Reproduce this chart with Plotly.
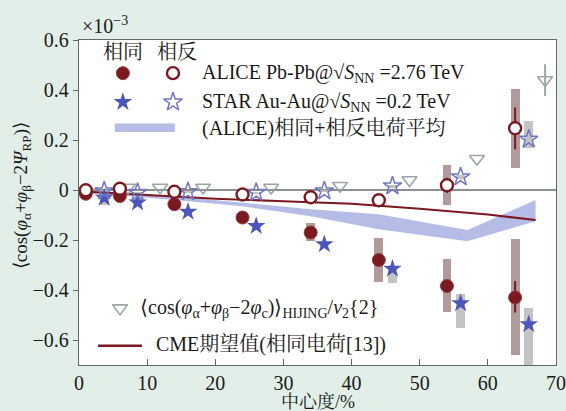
import plotly.graph_objects as go

# ---------------- data (units of 1e-3) ----------------
alice_x = [1, 6, 14, 24, 34, 44, 54, 64]
alice_same = [-0.015, -0.024, -0.057, -0.110, -0.170, -0.280, -0.384, -0.430]
alice_same_stat_p = [0.005, 0.005, 0.005, 0.006, 0.008, 0.012, 0.02, 0.066]
alice_same_stat_m = [0.005, 0.005, 0.005, 0.006, 0.008, 0.012, 0.02, 0.060]
alice_same_sys_lo = [-0.020, -0.030, -0.065, -0.125, -0.204, -0.368, -0.488, -0.660]
alice_same_sys_hi = [-0.010, -0.018, -0.050, -0.095, -0.131, -0.190, -0.276, -0.195]

alice_opp = [-0.001, 0.005, -0.007, -0.018, -0.029, -0.041, 0.019, 0.247]
alice_opp_stat_p = [0.004, 0.004, 0.004, 0.005, 0.006, 0.008, 0.03, 0.083]
alice_opp_stat_m = [0.004, 0.004, 0.004, 0.005, 0.006, 0.008, 0.03, 0.084]
alice_opp_sys_lo = [-0.006, 0.000, -0.013, -0.030, -0.052, -0.066, -0.061, 0.087]
alice_opp_sys_hi = [0.004, 0.010, -0.001, -0.006, -0.006, -0.016, 0.099, 0.405]

star_x = [3.7, 8.6, 16, 26, 36, 46, 56, 66]
star_same = [-0.031, -0.050, -0.087, -0.144, -0.217, -0.315, -0.453, -0.537]
star_same_sys_lo = [-0.060, -0.058, -0.095, -0.152, -0.225, -0.370, -0.550, -0.760]
star_same_sys_hi = [-0.015, -0.042, -0.079, -0.136, -0.209, -0.304, -0.417, -0.470]
star_opp = [-0.004, -0.010, -0.007, -0.010, -0.004, 0.016, 0.052, 0.203]
star_opp_sys_lo = [-0.008, -0.014, -0.011, -0.014, -0.008, 0.010, 0.044, 0.170]
star_opp_sys_hi = [0.000, -0.006, -0.003, -0.006, 0.000, 0.022, 0.060, 0.276]

hijing_x = [7.2, 11.9, 18.2, 28.2, 38.3, 48.5, 58.4, 68.4]
hijing_y = [0.010, 0.010, 0.010, 0.010, 0.017, 0.040, 0.125, 0.440]
hijing_err_p = [0, 0, 0, 0, 0, 0, 0, 0.063]
hijing_err_m = [0, 0, 0, 0, 0, 0, 0, 0.064]

band_x = [0, 6, 14, 24, 34, 44, 57, 67]
band_hi = [-0.003, -0.010, -0.025, -0.050, -0.077, -0.097, -0.160, -0.040]
band_lo = [-0.012, -0.022, -0.040, -0.065, -0.105, -0.157, -0.205, -0.125]

cme_x = [0, 10, 20, 30, 40, 50, 60, 67]
cme_y = [-0.005, -0.020, -0.035, -0.045, -0.055, -0.075, -0.098, -0.120]

x_ticks = [0, 10, 20, 30, 40, 50, 60, 70]
y_ticks = [-0.6, -0.4, -0.2, 0, 0.2, 0.4, 0.6]
y_ticktext = ["\u22120.6", "\u22120.4", "\u22120.2", "0", "0.2", "0.4", "0.6"]

# ---------------- style ----------------
RED = "#7a1a20"
BLUE = "#4b56b8"
BLUE_L = "#6f76c4"
BAND = "#b5bce6"
TRI = "#9aa6a6"
BOX_A = "rgba(150,120,120,0.75)"
BOX_S = "rgba(185,185,185,0.85)"
FONT = "Liberation Serif, 'Noto Serif CJK SC', 'Noto Sans CJK SC', serif"

fig = go.Figure()

def sys_bars(x, lo, hi, color, width=1.3):
    fig.add_trace(go.Bar(x=x, base=lo, y=[h - l for h, l in zip(hi, lo)],
                         width=width, marker=dict(color=color, line=dict(width=0)),
                         showlegend=False, hoverinfo="skip"))

sys_bars(alice_x, alice_same_sys_lo, alice_same_sys_hi, BOX_A)
sys_bars(alice_x, alice_opp_sys_lo, alice_opp_sys_hi, BOX_A)
sys_bars(star_x, star_same_sys_lo, star_same_sys_hi, BOX_S)
sys_bars(star_x, star_opp_sys_lo, star_opp_sys_hi, BOX_S)

# band
fig.add_trace(go.Scatter(x=band_x, y=band_lo, mode="lines", line=dict(width=0, color=BAND),
                         showlegend=False, hoverinfo="skip"))
fig.add_trace(go.Scatter(x=band_x, y=band_hi, mode="lines", line=dict(width=0, color=BAND),
                         fill="tonexty", fillcolor=BAND, showlegend=False, hoverinfo="skip"))

# CME line
fig.add_trace(go.Scatter(x=cme_x, y=cme_y, mode="lines", line=dict(color=RED, width=2.2),
                         showlegend=False))

# HIJING
fig.add_trace(go.Scatter(x=hijing_x, y=hijing_y, mode="markers",
                         marker=dict(symbol="triangle-down-open", size=13, color=TRI,
                                     line=dict(width=1.6, color=TRI)),
                         error_y=dict(type="data", array=hijing_err_p, arrayminus=hijing_err_m,
                                      color=TRI, thickness=2, width=0),
                         showlegend=False))

# STAR
fig.add_trace(go.Scatter(x=star_x, y=star_same, mode="markers",
                         marker=dict(symbol="star", size=14, color=BLUE, line=dict(width=0)),
                         showlegend=False))
fig.add_trace(go.Scatter(x=star_x, y=star_opp, mode="markers",
                         marker=dict(symbol="star-open", size=14, color=BLUE_L,
                                     line=dict(width=1.5, color=BLUE_L)),
                         showlegend=False))

# ALICE
fig.add_trace(go.Scatter(x=alice_x, y=alice_same, mode="markers",
                         marker=dict(symbol="circle", size=13, color=RED,
                                     line=dict(width=1, color="#9a3a3e")),
                         error_y=dict(type="data", array=alice_same_stat_p,
                                      arrayminus=alice_same_stat_m, color=RED, thickness=2, width=0),
                         showlegend=False))
fig.add_trace(go.Scatter(x=alice_x, y=alice_opp, mode="markers",
                         marker=dict(symbol="circle", size=12, color="white",
                                     line=dict(width=2.4, color=RED)),
                         error_y=dict(type="data", array=alice_opp_stat_p,
                                      arrayminus=alice_opp_stat_m, color=RED, thickness=2, width=0),
                         showlegend=False))

# ---------------- legend glyphs (overlay axes in [0,1]) ----------------
def glyph(x, y, marker, mode="markers", line=None):
    kw = dict(x=x, y=y, mode=mode, xaxis="x2", yaxis="y2", showlegend=False, hoverinfo="skip")
    if marker is not None:
        kw["marker"] = marker
    if line is not None:
        kw["line"] = line
    fig.add_trace(go.Scatter(**kw))

glyph([0.092], [0.898], dict(symbol="circle", size=13, color=RED, line=dict(width=1, color="#9a3a3e")))
glyph([0.197], [0.898], dict(symbol="circle", size=12, color="white", line=dict(width=2.4, color=RED)))
glyph([0.092], [0.809], dict(symbol="star", size=14, color=BLUE, line=dict(width=0)))
glyph([0.197], [0.809], dict(symbol="star-open", size=14, color=BLUE_L, line=dict(width=1.5, color=BLUE_L)))
glyph([0.086], [0.175], dict(symbol="triangle-down-open", size=13, color=TRI, line=dict(width=1.6, color=TRI)))
glyph([0.040, 0.132], [0.059, 0.059], None, mode="lines", line=dict(color=RED, width=2.5))

fig.add_shape(type="rect", xref="paper", yref="paper", x0=0.075, x1=0.201, y0=0.717, y1=0.743,
              fillcolor=BAND, line=dict(width=0))

def txt(x, y, s, anchor="left", size=20):
    fig.add_annotation(x=x, y=y, xref="paper", yref="paper", text=s, showarrow=False,
                       xanchor=anchor, yanchor="middle", font=dict(family=FONT, size=size, color="#1a1a1a"))

txt(0.092, 0.962, "相同", "center")
txt(0.205, 0.962, "相反", "center")
txt(0.254, 0.898, "ALICE Pb-Pb@√<i>S</i><sub>NN</sub> =2.76 TeV")
txt(0.254, 0.809, "STAR Au-Au@√<i>S</i><sub>NN</sub> =0.2 TeV")
txt(0.254, 0.729, "(ALICE)相同+相反电荷平均")
txt(0.124, 0.175, "⟨cos(<i>φ</i><sub>α</sub>+<i>φ</i><sub>β</sub>−2<i>φ</i><sub>c</sub>)⟩<sub>HIJING</sub>/<i>v</i><sub>2</sub>{2}")
txt(0.157, 0.062, "CME期望值(相同电荷[13])")

# multiplier
fig.add_annotation(x=0.003, y=1.0, xref="paper", yref="paper", yshift=15, text="×10<sup>−3</sup>",
                   showarrow=False, xanchor="left", yanchor="middle",
                   font=dict(family=FONT, size=20, color="#1a1a1a"))
# y title
fig.add_annotation(x=-0.119, y=0.52, xref="paper", yref="paper", textangle=-90,
                   text="⟨cos(<i>φ</i><sub>α</sub>+<i>φ</i><sub>β</sub>−2<i>Ψ</i><sub>RP</sub>)⟩",
                   showarrow=False, xanchor="center", yanchor="middle",
                   font=dict(family=FONT, size=19, color="#1a1a1a"))
# x title
fig.add_annotation(x=0.5, y=-0.114, xref="paper", yref="paper", text="中心度/%",
                   showarrow=False, xanchor="center", yanchor="middle",
                   font=dict(family=FONT, size=18, color="#1a1a1a"))

fig.update_layout(
    width=566, height=411,
    margin=dict(l=79, r=10, t=40, b=46, autoexpand=False),
    paper_bgcolor="#e2efe8", plot_bgcolor="white",
    barmode="overlay", bargap=0,
    showlegend=False,
    font=dict(family=FONT, size=20, color="#1a1a1a"),
    xaxis=dict(range=[0, 70], tickvals=x_ticks, ticks="inside", ticklen=6, tickcolor="#666",
               showline=True, linecolor="#666", linewidth=1.3, mirror=True, showgrid=False,
               zeroline=False, automargin=False,
               tickfont=dict(family=FONT, size=20)),
    yaxis=dict(range=[-0.7, 0.6], tickvals=y_ticks, ticktext=y_ticktext, ticks="outside",
               ticklen=5, tickcolor="#666", showline=True, linecolor="#666", linewidth=1.3,
               mirror=True, showgrid=False, zeroline=True, zerolinecolor="#8c9090",
               zerolinewidth=1.5, automargin=False, tickfont=dict(family=FONT, size=20)),
    xaxis2=dict(range=[0, 1], overlaying="x", anchor="y2", visible=False),
    yaxis2=dict(range=[0, 1], overlaying="y", anchor="x2", visible=False),
)

fig.write_html("out.html", config={"displayModeBar": False},
               post_script="document.body.style.margin='0';document.body.style.padding='0';"
                           "document.body.style.overflow='hidden';")
